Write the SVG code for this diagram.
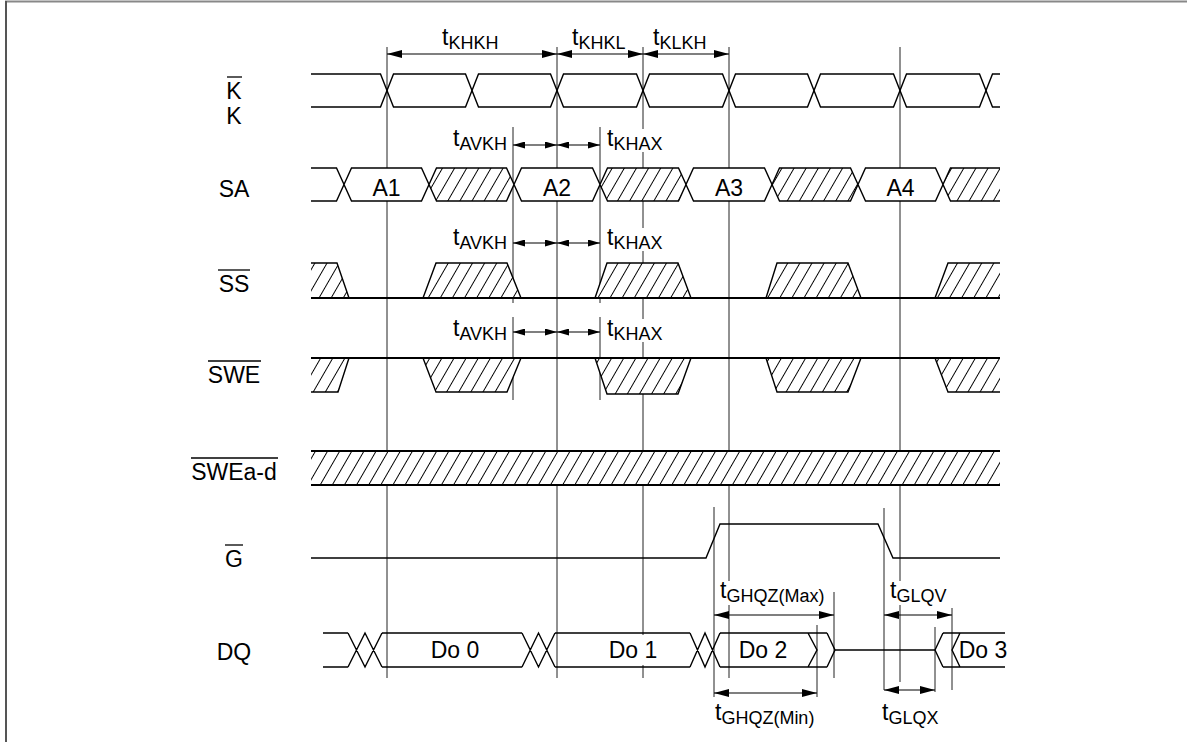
<svg xmlns="http://www.w3.org/2000/svg" width="1187" height="742" viewBox="0 0 1187 742">
<style>
text{font-family:"Liberation Sans",Arial,sans-serif;fill:#000}
.lbl{font-size:23px;text-anchor:middle}
.tl{font-size:23px}
.sub{font-size:18px}
.w{fill:none;stroke:#000;stroke-width:1.4;stroke-linejoin:miter}
.wf{fill:#fff;stroke:#000;stroke-width:1.4}
.wh{fill:url(#hatch);stroke:#000;stroke-width:1.4}
.wt{fill:none;stroke:#000;stroke-width:2}
.g{stroke:#222;stroke-width:1;fill:none}
.ob{stroke:#000;stroke-width:1.3}
.ar{stroke:#000;stroke-width:1.1;fill:none;marker-start:url(#ah);marker-end:url(#ah)}
.ars{stroke:#000;stroke-width:1.1;fill:none;marker-start:url(#ahs);marker-end:url(#ahs)}
.bg{fill:#fff}
.hx{fill:url(#hatch);stroke:none}
</style>
<defs>
<pattern id="hatch" patternUnits="userSpaceOnUse" width="10.5" height="10" patternTransform="rotate(30)">
<rect width="10.5" height="10" fill="#fff"/>
<line x1="5.25" y1="-1" x2="5.25" y2="11" stroke="#000" stroke-width="1"/>
</pattern>
<marker id="ah" viewBox="0 0 15 8" refX="15" refY="4" markerWidth="15" markerHeight="8" markerUnits="userSpaceOnUse" orient="auto-start-reverse"><path d="M0,0 L15,4 L0,8 z" fill="#000"/></marker>
<marker id="ahs" viewBox="0 0 12 7" refX="12" refY="3.5" markerWidth="12" markerHeight="7" markerUnits="userSpaceOnUse" orient="auto-start-reverse"><path d="M0,0 L12,3.5 L0,7 z" fill="#000"/></marker>
</defs>
<rect width="1187" height="742" fill="#fff"/>
<g id="frame">
<line x1="5" y1="1.5" x2="1187" y2="1.5" stroke="#888" stroke-width="2"/>
<line x1="6" y1="1" x2="6" y2="742" stroke="#555" stroke-width="2"/>
</g>
<g id="connectors">
<line class="g" x1="387" y1="47" x2="387" y2="678"/>
<line class="g" x1="557" y1="47" x2="557" y2="678"/>
<line class="g" x1="643" y1="47" x2="643" y2="678"/>
<line class="g" x1="729" y1="47" x2="729" y2="678"/>
<line class="g" x1="900" y1="47" x2="900" y2="682"/>
<line class="g" x1="513" y1="127" x2="513" y2="303"/>
<line class="g" x1="513" y1="317" x2="513" y2="400"/>
<line class="g" x1="600" y1="127" x2="600" y2="303"/>
<line class="g" x1="600" y1="317" x2="600" y2="400"/>
<line class="g" x1="714" y1="507" x2="714" y2="697"/>
<line class="g" x1="884" y1="508" x2="884" y2="690"/>
<line class="g" x1="834" y1="592" x2="834" y2="678"/>
<line class="g" x1="817" y1="625" x2="817" y2="697"/>
<line class="g" x1="935" y1="627" x2="935" y2="692"/>
<line class="g" x1="952" y1="608" x2="952" y2="690"/>
<line class="ar" x1="387" y1="54" x2="557" y2="54"/>
<line class="ar" x1="557" y1="54" x2="643" y2="54"/>
<line class="ar" x1="643" y1="54" x2="729" y2="54"/>
<line class="ars" x1="513" y1="145" x2="557" y2="145"/>
<line class="ars" x1="557" y1="145" x2="600" y2="145"/>
<line class="ars" x1="513" y1="243" x2="557" y2="243"/>
<line class="ars" x1="557" y1="243" x2="600" y2="243"/>
<line class="ars" x1="513" y1="332" x2="557" y2="332"/>
<line class="ars" x1="557" y1="332" x2="600" y2="332"/>
<line class="ar" x1="714" y1="615" x2="834" y2="615"/>
<line class="ar" x1="884" y1="615" x2="952" y2="615"/>
<line class="ar" x1="714" y1="693" x2="817" y2="693"/>
<line class="ar" x1="884" y1="690" x2="935" y2="690"/>
</g>
<g id="sig-K">
<path class="w" d="M311,74 H380.5 L393.5,107 H465.5 L478.5,74 H550.5 L563.5,107 H636.5 L649.5,74 H722.5 L735.5,107 H807.5 L820.5,74 H893.5 L906.5,107 H979.5 L992.5,74 H1000"/>
<path class="w" d="M311,107 H380.5 L393.5,74 H465.5 L478.5,107 H550.5 L563.5,74 H636.5 L649.5,107 H722.5 L735.5,74 H807.5 L820.5,107 H893.5 L906.5,74 H979.5 L992.5,107 H1000"/>
<text class="lbl" x="234" y="99">K</text>
<line class="ob" x1="227" y1="77" x2="242" y2="77"/>
<text class="lbl" x="234" y="124">K</text>
</g>
<g id="sig-SA">
<polyline class="w" points="311,168 336.5,168 344,184.5 336.5,201 311,201"/>
<polygon class="wf" points="344,184.5 351.5,168 421.5,168 429,184.5 421.5,201 351.5,201"/>
<polygon class="wh" points="429,184.5 436.5,168 506.5,168 514,184.5 506.5,201 436.5,201"/>
<polygon class="wf" points="514,184.5 521.5,168 592.5,168 600,184.5 592.5,201 521.5,201"/>
<polygon class="wh" points="600,184.5 607.5,168 678.5,168 686,184.5 678.5,201 607.5,201"/>
<polygon class="wf" points="686,184.5 693.5,168 764.5,168 772,184.5 764.5,201 693.5,201"/>
<polygon class="wh" points="772,184.5 779.5,168 850.5,168 858,184.5 850.5,201 779.5,201"/>
<polygon class="wf" points="858,184.5 865.5,168 935.5,168 943,184.5 935.5,201 865.5,201"/>
<polygon class="hx" points="943,184.5 950.5,168 1000,168 1000,201 950.5,201"/>
<path class="w" d="M1000,168 H950.5 L943,184.5 L950.5,201 H1000"/>
<text class="lbl" x="234" y="197">SA</text>
<text class="lbl" x="386.5" y="196">A1</text>
<text class="lbl" x="557" y="196">A2</text>
<text class="lbl" x="729" y="196">A3</text>
<text class="lbl" x="900.5" y="196">A4</text>
</g>
<g id="sig-SS">
<polygon class="hx" points="311,263 337,263 349,298 311,298"/>
<path class="w" d="M311,263 H337 L349,298"/>
<polygon class="hx" points="423,298 436,263 507,263 521,298"/>
<path class="w" d="M423,298 L436,263 H507 L521,298"/>
<polygon class="hx" points="595,298 607,263 678,263 691,298"/>
<path class="w" d="M595,298 L607,263 H678 L691,298"/>
<polygon class="hx" points="766,298 777,263 848,263 861,298"/>
<path class="w" d="M766,298 L777,263 H848 L861,298"/>
<polygon class="hx" points="935,298 948,263 1000,263 1000,298"/>
<path class="w" d="M935,298 L948,263 H1000"/>
<line class="wt" x1="311" y1="298" x2="1000" y2="298"/>
<text class="lbl" x="234" y="292">SS</text>
<line class="ob" x1="218" y1="270" x2="250" y2="270"/>
</g>
<g id="sig-SWE">
<polygon class="hx" points="311,392 338,392 349,358 311,358"/>
<path class="w" d="M311,392 H338 L349,358"/>
<polygon class="hx" points="423,358 436,392 507,392 521,358"/>
<path class="w" d="M423,358 L436,392 H507 L521,358"/>
<polygon class="hx" points="595,358 607,394 678,394 691,358"/>
<path class="w" d="M595,358 L607,394 H678 L691,358"/>
<polygon class="hx" points="766,358 777,392 848,392 861,358"/>
<path class="w" d="M766,358 L777,392 H848 L861,358"/>
<polygon class="hx" points="935,358 948,392 1000,392 1000,358"/>
<path class="w" d="M935,358 L948,392 H1000"/>
<line class="wt" x1="311" y1="358" x2="1000" y2="358"/>
<text class="lbl" x="234" y="383">SWE</text>
<line class="ob" x1="208" y1="361" x2="261" y2="361"/>
</g>
<g id="sig-SWEad">
<rect class="hx" x="311" y="451" width="689" height="34"/>
<line class="wt" x1="311" y1="451" x2="1000" y2="451"/>
<line class="wt" x1="311" y1="485" x2="1000" y2="485"/>
<text class="lbl" x="234" y="480">SWEa-d</text>
<line class="ob" x1="191" y1="458" x2="278" y2="458"/>
</g>
<g id="sig-G">
<path class="w" d="M311,558 H706 L720,524 H878 L893,558 H1000"/>
<text class="lbl" x="234" y="567">G</text>
<line class="ob" x1="225" y1="545" x2="243" y2="545"/>
</g>
<g id="sig-DQ">
<path class="w" d="M323,633 H348 M323,667 H348 M348,633 L365,667 L382,633 M348,667 L365,633 L382,667 M382,633 H522 M382,667 H522 M522,633 L538.5,667 L555,633 M522,667 L538.5,633 L555,667 M555,633 H690 M555,667 H690 M690,633 L705,667 L720,633 M690,667 L705,633 L720,667 M720,633 H827 M720,667 H827 M808,633 L817,650 L808,667 M827,633 L835,650 L827,667 M835,650 H935 M943,633 L935,650 L943,667 M960,633 L952,650 L960,667 M943,633 H1005 M943,667 H1005"/>
<text class="lbl" x="234" y="660">DQ</text>
<text class="lbl" x="455" y="658">Do 0</text>
<rect class="bg" x="608" y="635" width="50" height="30"/>
<text class="lbl" x="633" y="658">Do 1</text>
<text class="lbl" x="763" y="658">Do 2</text>
<text class="lbl" x="983" y="658">Do 3</text>
</g>
<g id="timing-labels">
<text class="tl" x="442" y="45">t<tspan class="sub" dy="4">KHKH</tspan></text>
<text class="tl" x="572" y="45">t<tspan class="sub" dy="4">KHKL</tspan></text>
<text class="tl" x="653" y="45">t<tspan class="sub" dy="4">KLKH</tspan></text>
<text class="tl" x="453" y="146">t<tspan class="sub" dy="4">AVKH</tspan></text>
<rect class="bg" x="605" y="129" width="60" height="23"/>
<text class="tl" x="607" y="146">t<tspan class="sub" dy="4">KHAX</tspan></text>
<text class="tl" x="453" y="245">t<tspan class="sub" dy="4">AVKH</tspan></text>
<rect class="bg" x="605" y="228" width="60" height="23"/>
<text class="tl" x="607" y="245">t<tspan class="sub" dy="4">KHAX</tspan></text>
<text class="tl" x="453" y="336">t<tspan class="sub" dy="4">AVKH</tspan></text>
<rect class="bg" x="605" y="319" width="60" height="23"/>
<text class="tl" x="607" y="336">t<tspan class="sub" dy="4">KHAX</tspan></text>
<rect class="bg" x="718" y="581" width="111" height="24"/>
<text class="tl" x="720" y="598">t<tspan class="sub" dy="4">GHQZ(Max)</tspan></text>
<rect class="bg" x="888" y="581" width="62" height="24"/>
<text class="tl" x="890" y="598">t<tspan class="sub" dy="4">GLQV</tspan></text>
<text class="tl" x="715" y="720">t<tspan class="sub" dy="4">GHQZ(Min)</tspan></text>
<text class="tl" x="882" y="720">t<tspan class="sub" dy="4">GLQX</tspan></text>
</g>
</svg>
